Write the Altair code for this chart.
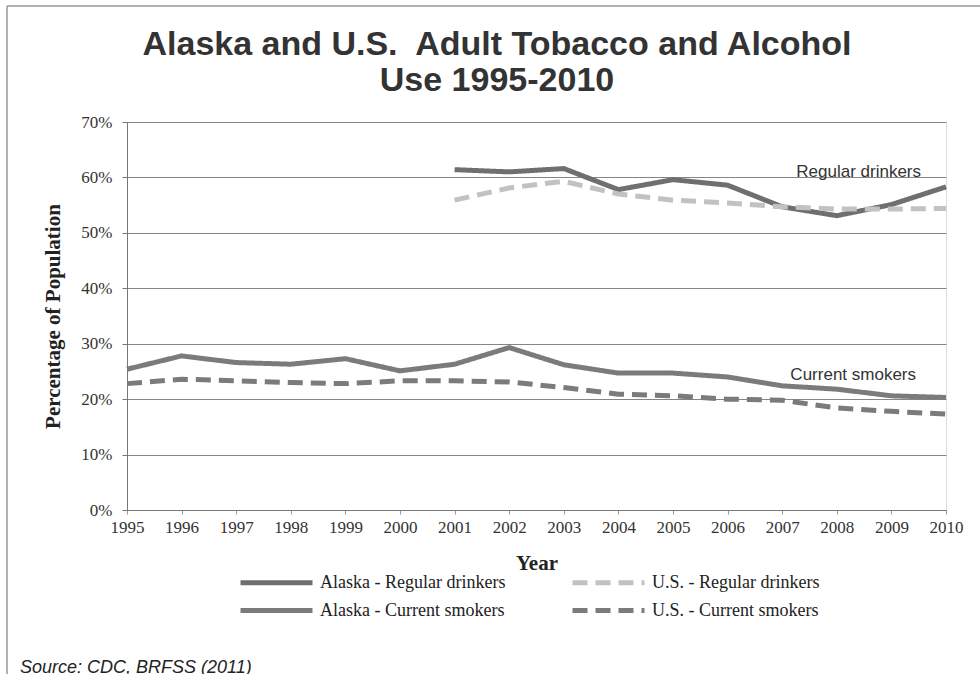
import altair as alt
import pandas as pd

years = list(range(1995, 2011))

ak_drinkers = [None, None, None, None, None, None, 61.4, 61.0, 61.6, 57.8, 59.6, 58.6, 54.7, 53.1, 55.1, 58.3]
us_drinkers = [None, None, None, None, None, None, 55.9, 58.1, 59.3, 57.0, 55.9, 55.4, 54.7, 54.3, 54.3, 54.4]
ak_smokers = [25.4, 27.8, 26.6, 26.3, 27.3, 25.1, 26.3, 29.3, 26.2, 24.7, 24.7, 24.0, 22.4, 21.8, 20.6, 20.3]
us_smokers = [22.8, 23.6, 23.3, 23.0, 22.8, 23.3, 23.3, 23.1, 22.1, 20.9, 20.6, 20.0, 19.8, 18.4, 17.8, 17.3]

# order: column-major legend (left column Alaska, right column U.S.)
series_names = [
    "Alaska - Regular drinkers",
    "Alaska - Current smokers",
    "U.S. - Regular drinkers",
    "U.S. - Current smokers",
]
series_values = [ak_drinkers, ak_smokers, us_drinkers, us_smokers]
series_colors = ["#6f6f6f", "#7b7b7b", "#c2c2c2", "#7b7b7b"]
series_dash = [[1, 0], [1, 0], [15, 8], [15, 8]]

label_texts = ["Regular drinkers", "Current smokers"]
label_years = [2008.4, 2008.3]
label_values = [61.0, 24.3]

title_lines = ["Alaska and U.S.\u00a0 Adult Tobacco and Alcohol", "Use 1995-2010"]
source_text = "Source: CDC, BRFSS (2011)"

y_ticks = [0, 10, 20, 30, 40, 50, 60, 70]

rows = []
for name, vals in zip(series_names, series_values):
    for yr, v in zip(years, vals):
        if v is not None:
            rows.append({"Year": yr, "Value": v, "Series": name})
df = pd.DataFrame(rows)

labels_df = pd.DataFrame({"Year": label_years, "Value": label_values, "Text": label_texts})
dummy = pd.DataFrame({"a": [0]})

x_enc = alt.X(
    "Year:Q",
    scale=alt.Scale(domain=[1995, 2010], nice=False, zero=False),
    axis=alt.Axis(
        values=years, format="d", grid=False, title="Year",
        labelFont="Liberation Serif", labelFontSize=17, labelColor="#333",
        labelPadding=5, labelFlush=False, labelOverlap=False,
        tickSize=4, tickColor="#999", domainColor="#777",
        titleFont="Liberation Serif", titleFontSize=21, titleFontWeight="bold",
        titleColor="#222", titlePadding=17,
    ),
)
y_enc = alt.Y(
    "Value:Q",
    scale=alt.Scale(domain=[0, 70], nice=False),
    axis=alt.Axis(
        values=y_ticks, labelExpr="datum.value + '%'", grid=True,
        gridColor="#858585", gridWidth=1, title="Percentage of Population",
        labelFont="Liberation Serif", labelFontSize=17, labelColor="#333",
        labelPadding=10, tickSize=5, tickColor="#777", domainColor="#777",
        titleFont="Liberation Serif", titleFontSize=21, titleFontWeight="bold",
        titleColor="#222", titlePadding=17,
    ),
)

legend_cfg = dict(
    title=None, orient="none", legendX=111, legendY=443, columns=2,
    columnPadding=56, rowPadding=0, symbolType="M-1,0H3.8",
    symbolSize=900, symbolStrokeWidth=5, labelFont="Liberation Serif",
    labelFontSize=18, labelColor="#222", labelOffset=47, labelLimit=400,
)

lines = alt.Chart(df).mark_line(strokeWidth=5).encode(
    x=x_enc,
    y=y_enc,
    color=alt.Color(
        "Series:N",
        scale=alt.Scale(domain=series_names, range=series_colors),
        legend=alt.Legend(**legend_cfg),
    ),
    strokeDash=alt.StrokeDash(
        "Series:N",
        scale=alt.Scale(domain=series_names, range=series_dash),
        legend=alt.Legend(**legend_cfg),
    ),
)

texts = alt.Chart(labels_df).mark_text(
    font="Liberation Sans", fontSize=17, color="#333", align="center", baseline="middle"
).encode(x="Year:Q", y="Value:Q", text="Text:N")

title1 = alt.Chart(dummy).mark_text(
    text=title_lines[0], font="Liberation Sans", fontSize=34, fontWeight="bold",
    color="#333", align="center", baseline="middle"
).encode(x=alt.value(370), y=alt.value(-77))
title2 = alt.Chart(dummy).mark_text(
    text=title_lines[1], font="Liberation Sans", fontSize=34, fontWeight="bold",
    color="#333", align="center", baseline="middle"
).encode(x=alt.value(370), y=alt.value(-41))

frame_left = alt.Chart(dummy).mark_rule(color="#999", strokeWidth=1.5).encode(
    x=alt.value(-120), y=alt.value(-116), y2=alt.value(560)
)
frame_top = alt.Chart(dummy).mark_rule(color="#999", strokeWidth=1.5).encode(
    x=alt.value(-120), x2=alt.value(860), y=alt.value(-116)
)
source = alt.Chart(dummy).mark_text(
    text=source_text, font="Liberation Sans", fontSize=18,
    fontStyle="italic", color="#222", align="left", baseline="alphabetic"
).encode(x=alt.value(-107), y=alt.value(551))

chart = alt.layer(lines, texts, title1, title2, frame_left, frame_top, source).properties(
    width=819,
    height=388,
    padding={"left": 127, "top": 122, "right": 34, "bottom": 164},
    autosize=alt.AutoSizeParams(type="none"),
).configure_view(stroke=None).configure(background="white")

chart.save("out.html", embed_options={"renderer": "svg", "actions": False})
